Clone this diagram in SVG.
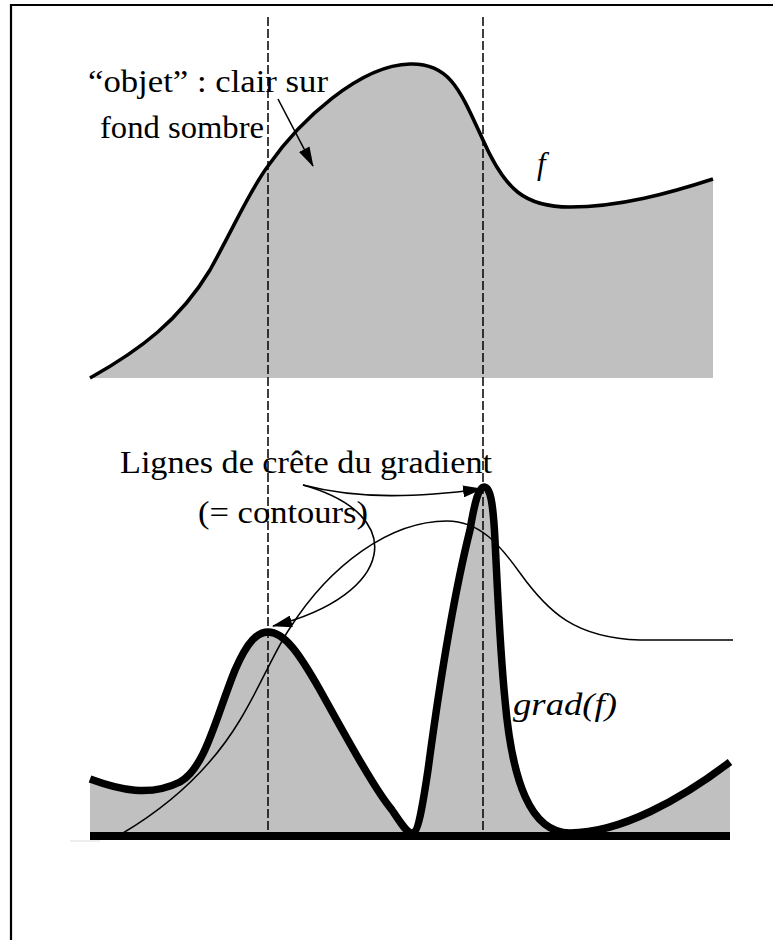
<svg xmlns="http://www.w3.org/2000/svg" width="774" height="940" viewBox="0 0 774 940">
<style>
.fill{fill:#c0c0c0;stroke:none}
.dash{stroke:#000;stroke-width:1.5;stroke-dasharray:9,3;fill:none}
.lbl{font-family:"Liberation Serif","DejaVu Serif",serif;font-size:31px;fill:#000}
.math{font-family:"Liberation Serif","DejaVu Serif",serif;font-style:italic;font-size:31px;fill:#000}
.arr{stroke:#000;stroke-width:1.6;fill:none;marker-end:url(#ah)}
</style>
<defs>
<marker id="ah" markerUnits="userSpaceOnUse" markerWidth="20" markerHeight="12" viewBox="0 0 20 12" refX="19" refY="6" orient="auto">
<path d="M0,0 L20,6 L0,12 z" fill="#000"/>
</marker>
</defs>
<rect width="774" height="940" fill="#fff"/>
<path d="M11,940 V5 H773" fill="none" stroke="#000" stroke-width="2.2"/>

<g id="f-curve">
<path class="fill" d="M90,378 C140,350 180,320 210,270 C235,225 250,190 268,166 C300,120 360,65 410,64 C450,63 460,90 483,140 C505,190 525,207 570,207 C620,207 670,193 713,179 L713,378 L90,378 Z"/>
</g>
<g id="grad-curve">
<path class="fill" d="M90,779 C120,790 150,797 180,782 C205,768 215,720 235,670 C248,640 258,632 268,632 C285,632 300,655 320,690 C345,735 375,790 392,810 C402,825 407,833 412,833 C418,833 422,810 428,770 C440,680 455,590 470,530 C475,500 479,487 484,487 C490,487 493,500 495,540 C498,600 500,650 505,700 C512,780 530,833 570,833 C620,833 680,800 730,762 L730,836 L90,836 Z"/>
</g>

<g id="guides">
<line class="dash" x1="268" y1="17" x2="268" y2="836"/>
<line class="dash" x1="483" y1="17" x2="483" y2="836"/>
</g>

<g id="f-line">
<path d="M90,378 C140,350 180,320 210,270 C235,225 250,190 268,166 C300,120 360,65 410,64 C450,63 460,90 483,140 C505,190 525,207 570,207 C620,207 670,193 713,179" fill="none" stroke="#000" stroke-width="3.6"/>
</g>
<g id="f-thin">
<path d="M123,833 C170,805 210,770 240,720 C262,683 275,650 290,628 C330,565 390,521 447,521 C480,521 500,545 520,573 C548,612 575,638 640,640 L733,640" fill="none" stroke="#000" stroke-width="1.5"/>
</g>
<g id="grad-line">
<path d="M90,779 C120,790 150,797 180,782 C205,768 215,720 235,670 C248,640 258,632 268,632 C285,632 300,655 320,690 C345,735 375,790 392,810 C402,825 407,833 412,833 C418,833 422,810 428,770 C440,680 455,590 470,530 C475,500 479,487 484,487 C490,487 493,500 495,540 C498,600 500,650 505,700 C512,780 530,833 570,833 C620,833 680,800 730,762" fill="none" stroke="#000" stroke-width="7.5" stroke-linejoin="round"/>
</g>
<g id="axis">
<line x1="70" y1="841" x2="100" y2="841" stroke="#ddd" stroke-width="1"/>
<line x1="90" y1="836" x2="730" y2="836" stroke="#000" stroke-width="8"/>
</g>

<g id="connectors">
<path class="arr" d="M278,99 L313,166"/>
<path class="arr" d="M303,485 C360,500 420,497 482,489"/>
<path class="arr" d="M303,485 C410,515 395,595 273,626"/>
</g>

<g id="label-objet">
<text class="lbl" x="88" y="92" textLength="240" lengthAdjust="spacingAndGlyphs">“objet” : clair sur</text>
<text class="lbl" x="100" y="138" textLength="164" lengthAdjust="spacingAndGlyphs">fond sombre</text>
</g>
<g id="label-f">
<text class="math" x="537" y="174">f</text>
</g>
<g id="label-lignes">
<text class="lbl" x="120" y="473" textLength="372" lengthAdjust="spacingAndGlyphs">Lignes de crête du gradient</text>
<text class="lbl" x="198" y="523" textLength="170" lengthAdjust="spacingAndGlyphs">(= contours)</text>
</g>
<g id="label-grad">
<text class="math" x="513" y="715" textLength="104" lengthAdjust="spacingAndGlyphs">grad(f)</text>
</g>
</svg>
